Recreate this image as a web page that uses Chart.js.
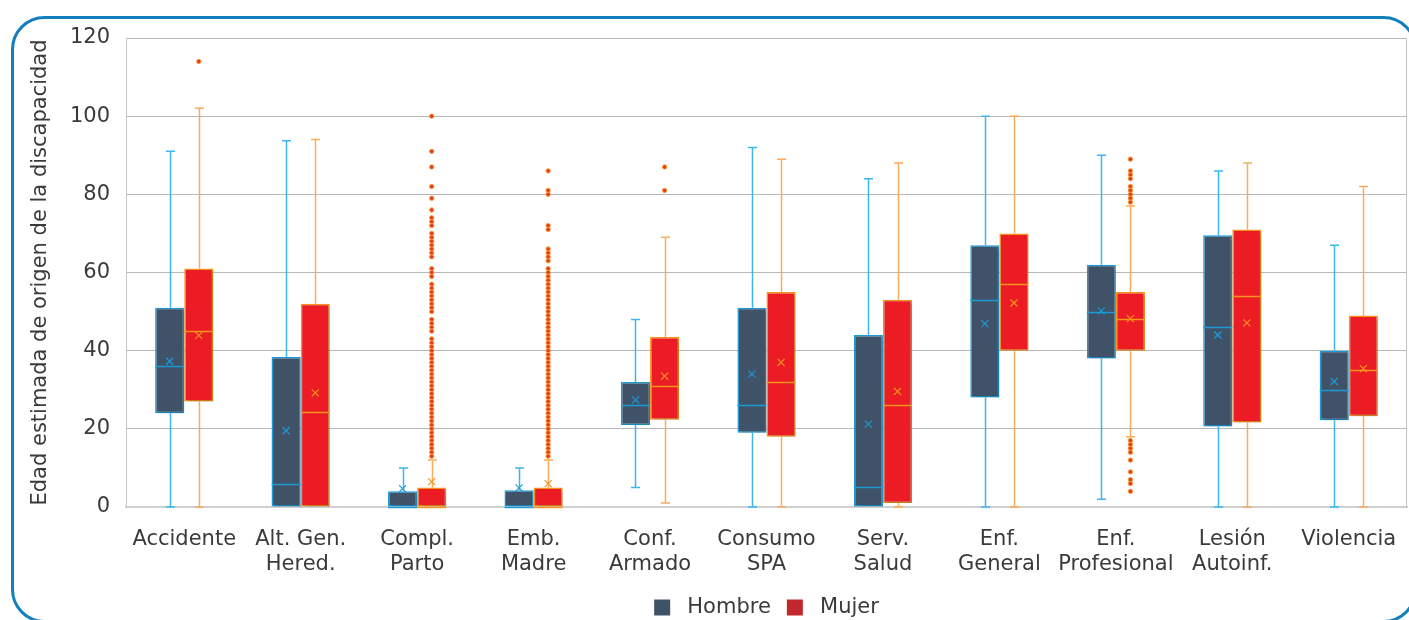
<!DOCTYPE html>
<html lang="es">
<head>
<meta charset="utf-8">
<title>Edad estimada de origen de la discapacidad</title>
<script src="https://cdn.jsdelivr.net/npm/chart.js@4.4.1/dist/chart.umd.min.js"></script>
<style>
  html, body { margin: 0; padding: 0; background: #ffffff; }
  #wrap { width: 1409px; height: 620px; position: relative; }
</style>
</head>
<body>
<div id="wrap"><canvas id="chart" width="1409" height="620"></canvas></div>
<script>
// Causes of disability (x categories)
const categories = [
  'Accidente', ['Alt. Gen.', 'Hered.'], ['Compl.', 'Parto'], ['Emb.', 'Madre'],
  ['Conf.', 'Armado'], ['Consumo', 'SPA'], ['Serv.', 'Salud'], ['Enf.', 'General'],
  ['Enf.', 'Profesional'], ['Lesión', 'Autoinf.'], 'Violencia'
];
const yTicks = [0, 20, 40, 60, 80, 100, 120];

// Hombre: five-number summary and mean per category
const hombreMin    = [0, 0, 0, 0, 5, 0, 0, 0, 2, 0, 0];
const hombreQ1     = [24, 0, 0, 0, 21, 19, 0, 28, 38, 20.6, 22.2];
const hombreMedian = [36, 6, 0, 0, 26, 26, 5, 53, 50, 46, 30];
const hombreQ3     = [51, 38.4, 4, 4.3, 32, 51, 44, 67, 62, 69.5, 40];
const hombreMax    = [91, 93.7, 10, 10, 48, 92, 84, 100, 90, 86, 67];
const hombreMean   = [37.3, 19.5, 4.7, 4.9, 27.4, 34, 21.2, 46.9, 50.2, 44, 32.1];
const hombreOutliers = [[], [], [], [], [], [], [], [], [], [], []];

// Mujer: five-number summary and mean per category
const mujerMin    = [0, 0, 0, 0, 1, 0, 0, 0, 18, 0, 0];
const mujerQ1     = [27, 0, 0, 0, 22.3, 18, 1, 40, 40, 21.6, 23.2];
const mujerMedian = [45, 24.2, 0, 0, 31, 32, 26, 57, 48, 54, 35];
const mujerQ3     = [61, 52, 5, 5, 43.5, 55, 53, 70, 55, 71, 49];
const mujerMax    = [102, 94, 12, 12, 69, 89, 88, 100, 77, 88, 82];
const mujerMean   = [43.9, 29.2, 6.5, 6, 33.5, 37, 29.6, 52.2, 48.2, 47.1, 35.4];
const mujerOutliers = [
  [114],
  [],
  [100, 91, 87, 82, 79, 76, 74, 73, 72, 70, 69, 68, 67, 66, 65, 64, 61, 60, 59,
   57, 56, 55, 54, 53, 52, 51, 50, 48, 47, 46, 45, 43, 42, 41, 40, 39, 38, 37, 36,
   35, 34, 33, 32, 31, 30, 29, 28, 27, 26, 25, 24, 23, 22, 21, 20, 19, 18, 17, 16,
   15, 14, 13],
  [86, 81, 80, 72, 71, 66, 65, 64, 63, 61, 60, 59, 58, 57, 56, 55, 54, 53, 52, 51,
   50, 49, 48, 47, 46, 45, 44, 43, 42, 41, 40, 39, 38, 37, 36, 35, 34, 33, 32, 31,
   30, 29, 28, 27, 26, 25, 24, 23, 22, 21, 20, 19, 18, 17, 16, 15, 14, 13],
  [87, 81],
  [],
  [],
  [],
  [89, 86, 85, 84, 82, 81, 80, 79, 78, 17, 16, 15, 14, 12, 9, 7, 6, 4],
  [],
  []
];

const FONT = '"DejaVu Sans", "Noto Sans", sans-serif';
const TEXT = '#3a3a3a';

const seriesStyle = [
  { fill: '#405268', border: '#1c9bd7', whisker: '#3cb6ee', mark: '#1c9bd7', legend: '#405268' },
  { fill: '#ec1c24', border: '#f7941d', whisker: '#f9ac5a', mark: '#f7941d', legend: '#c1272d' }
];
const summaries = [
  { min: hombreMin, q1: hombreQ1, med: hombreMedian, q3: hombreQ3, max: hombreMax, mean: hombreMean, out: hombreOutliers },
  { min: mujerMin, q1: mujerQ1, med: mujerMedian, q3: mujerQ3, max: mujerMax, mean: mujerMean, out: mujerOutliers }
];

// Whiskers under the boxes; medians, means and outliers on top of them
const boxPlotParts = {
  id: 'boxPlotParts',
  beforeDraw(chart) {
    const ctx = chart.ctx;
    ctx.save();
    ctx.strokeStyle = '#1380bd';
    ctx.lineWidth = 3;
    ctx.beginPath();
    ctx.roundRect(12.5, 17.5, 1403, 604, 32);
    ctx.stroke();
    ctx.restore();
  },
  beforeDatasetsDraw(chart) {
    const ctx = chart.ctx, y = chart.scales.y;
    ctx.save();
    summaries.forEach((s, d) => {
      const meta = chart.getDatasetMeta(d);
      ctx.strokeStyle = seriesStyle[d].whisker;
      ctx.lineWidth = 1.5;
      meta.data.forEach((bar, j) => {
        const x = Math.round(bar.x) + 0.5;
        const segs = [];
        if (s.max[j] > s.q3[j]) segs.push([s.q3[j], s.max[j]]);
        if (s.min[j] < s.q1[j]) segs.push([s.q1[j], s.min[j]]);
        segs.forEach(([from, to]) => {
          const y0 = y.getPixelForValue(from), y1 = y.getPixelForValue(to);
          ctx.beginPath();
          ctx.moveTo(x, y0); ctx.lineTo(x, y1);
          ctx.moveTo(x - 4.5, y1); ctx.lineTo(x + 4.5, y1);
          ctx.stroke();
        });
      });
    });
    ctx.restore();
  },
  beforeDatasetDraw(chart) {
    const ctx = chart.ctx;
    ctx.save();
    ctx.shadowColor = 'rgba(0,0,0,0.22)';
    ctx.shadowBlur = 3;
    ctx.shadowOffsetX = 2;
    ctx.shadowOffsetY = 2;
  },
  afterDatasetDraw(chart) {
    chart.ctx.restore();
  },
  afterDatasetsDraw(chart) {
    const ctx = chart.ctx, y = chart.scales.y;
    ctx.save();
    summaries.forEach((s, d) => {
      const meta = chart.getDatasetMeta(d);
      const st = seriesStyle[d];
      meta.data.forEach((bar, j) => {
        const x = bar.x, half = bar.width / 2;
        // median
        const ym = Math.round(y.getPixelForValue(s.med[j])) + 0.5;
        ctx.strokeStyle = st.border;
        ctx.lineWidth = 1.5;
        ctx.beginPath();
        ctx.moveTo(x - half, ym); ctx.lineTo(x + half, ym);
        ctx.stroke();
        // mean
        const yc = y.getPixelForValue(s.mean[j]);
        ctx.strokeStyle = st.mark;
        ctx.lineWidth = 1.2;
        ctx.beginPath();
        ctx.moveTo(x - 3.5, yc - 3.5); ctx.lineTo(x + 3.5, yc + 3.5);
        ctx.moveTo(x + 3.5, yc - 3.5); ctx.lineTo(x - 3.5, yc + 3.5);
        ctx.stroke();
        // outliers
        s.out[j].forEach(v => {
          const yo = y.getPixelForValue(v);
          ctx.beginPath();
          ctx.arc(x, yo, 2.2, 0, Math.PI * 2);
          ctx.fillStyle = '#e8381f';
          ctx.fill();
          ctx.lineWidth = 1;
          ctx.strokeStyle = '#f7a13a';
          ctx.stroke();
        });
      });
    });
    // right edge of the plot frame
    const a = chart.chartArea;
    ctx.strokeStyle = '#c4c4c4';
    ctx.lineWidth = 1;
    ctx.beginPath();
    ctx.moveTo(Math.round(a.right) - 0.5, a.top);
    ctx.lineTo(Math.round(a.right) - 0.5, a.bottom);
    ctx.stroke();
    ctx.restore();
  }
};

new Chart(document.getElementById('chart'), {
  type: 'bar',
  data: {
    labels: categories,
    datasets: [
      {
        label: 'Hombre',
        data: hombreQ1.map((q, i) => [q, hombreQ3[i]]),
        backgroundColor: seriesStyle[0].fill,
        borderColor: seriesStyle[0].border,
        borderWidth: 1.5,
        borderSkipped: false
      },
      {
        label: 'Mujer',
        data: mujerQ1.map((q, i) => [q, mujerQ3[i]]),
        backgroundColor: seriesStyle[1].fill,
        borderColor: seriesStyle[1].border,
        borderWidth: 1.5,
        borderSkipped: false
      }
    ]
  },
  options: {
    responsive: false,
    animation: false,
    devicePixelRatio: 1,
    categoryPercentage: 0.5,
    barPercentage: 1.0,
    layout: { padding: { top: 38, right: 2, left: 28, bottom: -8 } },
    scales: {
      x: {
        grid: { display: false, drawTicks: false },
        border: { display: true, color: '#cfcfcf', width: 2 },
        ticks: { padding: 20, color: TEXT, font: { family: FONT, size: 21, lineHeight: 1.2 }, maxRotation: 0, autoSkip: false },
        afterFit(scale) {
          scale.height = 74;
          scale.paddingLeft = 0;
          scale.paddingRight = 0;
        }
      },
      y: {
        min: 0,
        max: 120,
        afterBuildTicks(scale) { scale.ticks = yTicks.map(v => ({ value: v })); },
        grid: { color: '#b8b8b8', lineWidth: 1, drawTicks: false },
        border: { display: true, color: '#c8c8c8', width: 1 },
        ticks: { padding: 16, color: TEXT, font: { family: FONT, size: 21 } },
        title: {
          display: true,
          text: 'Edad estimada de origen de la discapacidad',
          color: TEXT,
          font: { family: FONT, size: 21, lineHeight: 1.2 },
          padding: { top: 0, bottom: 0 }
        },
        afterFit(scale) { scale.width = 98; }
      }
    },
    plugins: {
      legend: {
        position: 'bottom',
        fullSize: false,
        labels: {
          color: TEXT,
          font: { family: FONT, size: 21 },
          boxWidth: 16,
          boxHeight: 16,
          padding: 16,
          generateLabels(chart) {
            return chart.data.datasets.map((ds, i) => ({
              text: ' ' + ds.label,
              fillStyle: seriesStyle[i].legend,
              strokeStyle: seriesStyle[i].legend,
              fontColor: TEXT,
              lineWidth: 0,
              datasetIndex: i,
              hidden: false
            }));
          }
        }
      },
      tooltip: { enabled: false }
    }
  },
  plugins: [boxPlotParts]
});
</script>
</body>
</html>
